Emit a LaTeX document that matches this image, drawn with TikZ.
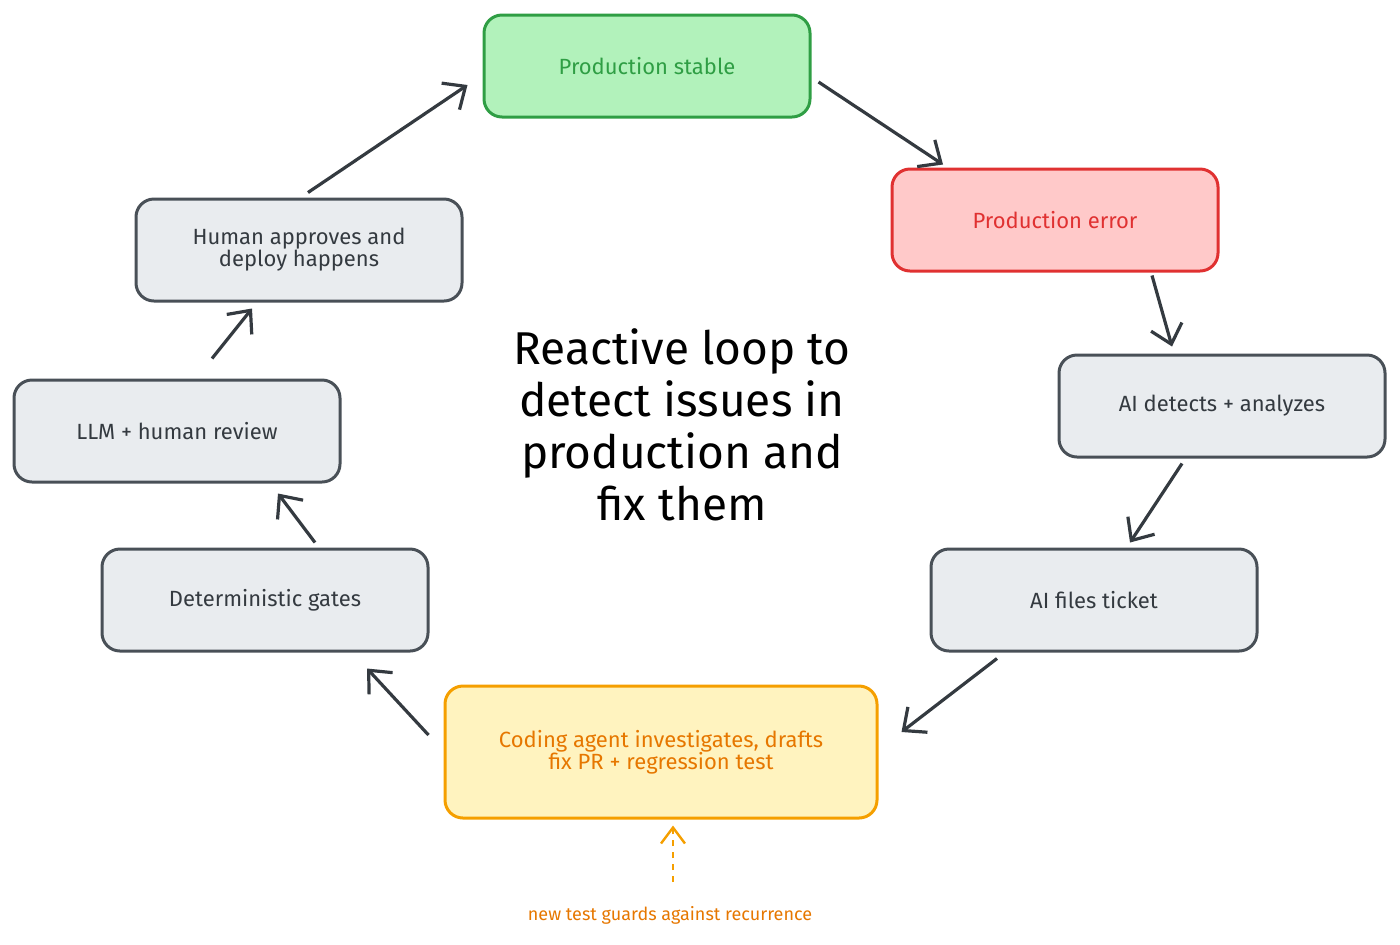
\documentclass[tikz,border=0pt]{standalone}
\usepackage{fontspec}
\setmainfont{Fira Sans}
\usetikzlibrary{arrows.meta,calc}
\definecolor{grfill}{HTML}{B2F2BB}\definecolor{grline}{HTML}{2F9E44}
\definecolor{rdfill}{HTML}{FFC9C9}\definecolor{rdline}{HTML}{E03131}
\definecolor{gyfill}{HTML}{E9ECEF}\definecolor{gyline}{HTML}{495057}
\definecolor{yefill}{HTML}{FFF3BF}\definecolor{yeline}{HTML}{F59F00}
\definecolor{yetext}{HTML}{E67700}\definecolor{ink}{HTML}{343A40}
\begin{document}
\begin{tikzpicture}[x=0.5pt,y=-0.5pt,
 box/.style={draw=gyline,fill=gyfill,line width=1.5pt,rounded corners=9pt,minimum width=163pt,minimum height=51pt,align=center,font=\fontsize{11}{13}\selectfont,text=ink},
 arr/.style={draw=ink,line width=1.6pt,-{Straight Barb[length=9pt,width=16pt,line width=1.6pt]}}]
\useasboundingbox (0,0) rectangle (1400,944);
\node[box,draw=grline,fill=grfill,text=grline] (stable) at (647,66) {Production stable};
\node[box,draw=rdline,fill=rdfill,text=rdline] (error) at (1055,220) {Production error};
\node[box] (detect) at (1222,406) {AI detects + analyzes};
\node[box] (ticket) at (1094,600) {AI files ticket};
\node[box,draw=yeline,fill=yefill,text=yetext,minimum width=216pt,minimum height=66pt] (code) at (661,752) {Coding agent investigates, drafts\\[-2pt]fix PR + regression test};
\node[box] (gates) at (265,600) {Deterministic gates};
\node[box] (review) at (177,431) {LLM + human review};
\node[box] (human) at (299,250) {Human approves and\\[-2pt]deploy happens};
\node[align=center,font=\fontsize{23}{26}\selectfont,text=black] (title) at (682,425) {Reactive loop to\\detect issues in\\production and\\fix them};
\node[font=\fontsize{9}{11}\selectfont,text=yetext] (note) at (670,915) {new test guards against recurrence};
\draw[arr] ($(stable.east)+(7,16)$) -- ($(error.north)+(-112,-3)$);
\draw[arr] ($(error.south)+(97,3)$) -- ($(detect.north)+(-50,-7)$);
\draw[arr] ($(detect.south)+(-40,5)$) -- ($(ticket.north)+(36,-5)$);
\draw[arr] ($(ticket.south)+(-97,6)$) -- ($(code.east)+(23,-20)$);
\draw[arr] ($(code.west)+(-15,-17)$) -- ($(gates.south)+(102,16)$);
\draw[arr] ($(gates.north)+(50,-5)$) -- ($(review.south)+(101,10)$);
\draw[arr] ($(review.north)+(35,-20)$) -- ($(human.south)+(-47,6)$);
\draw[arr] ($(human.north)+(9,-5)$) -- ($(stable.west)+(-15,19)$);
\draw[arr,draw=yeline,dashed,line width=1.2pt,-{Straight Barb[length=8pt,width=12pt,line width=1.2pt]}] ($(note.north)+(3,-17)$) -- ($(code.south)+(12,6)$);
\end{tikzpicture}
\end{document}
